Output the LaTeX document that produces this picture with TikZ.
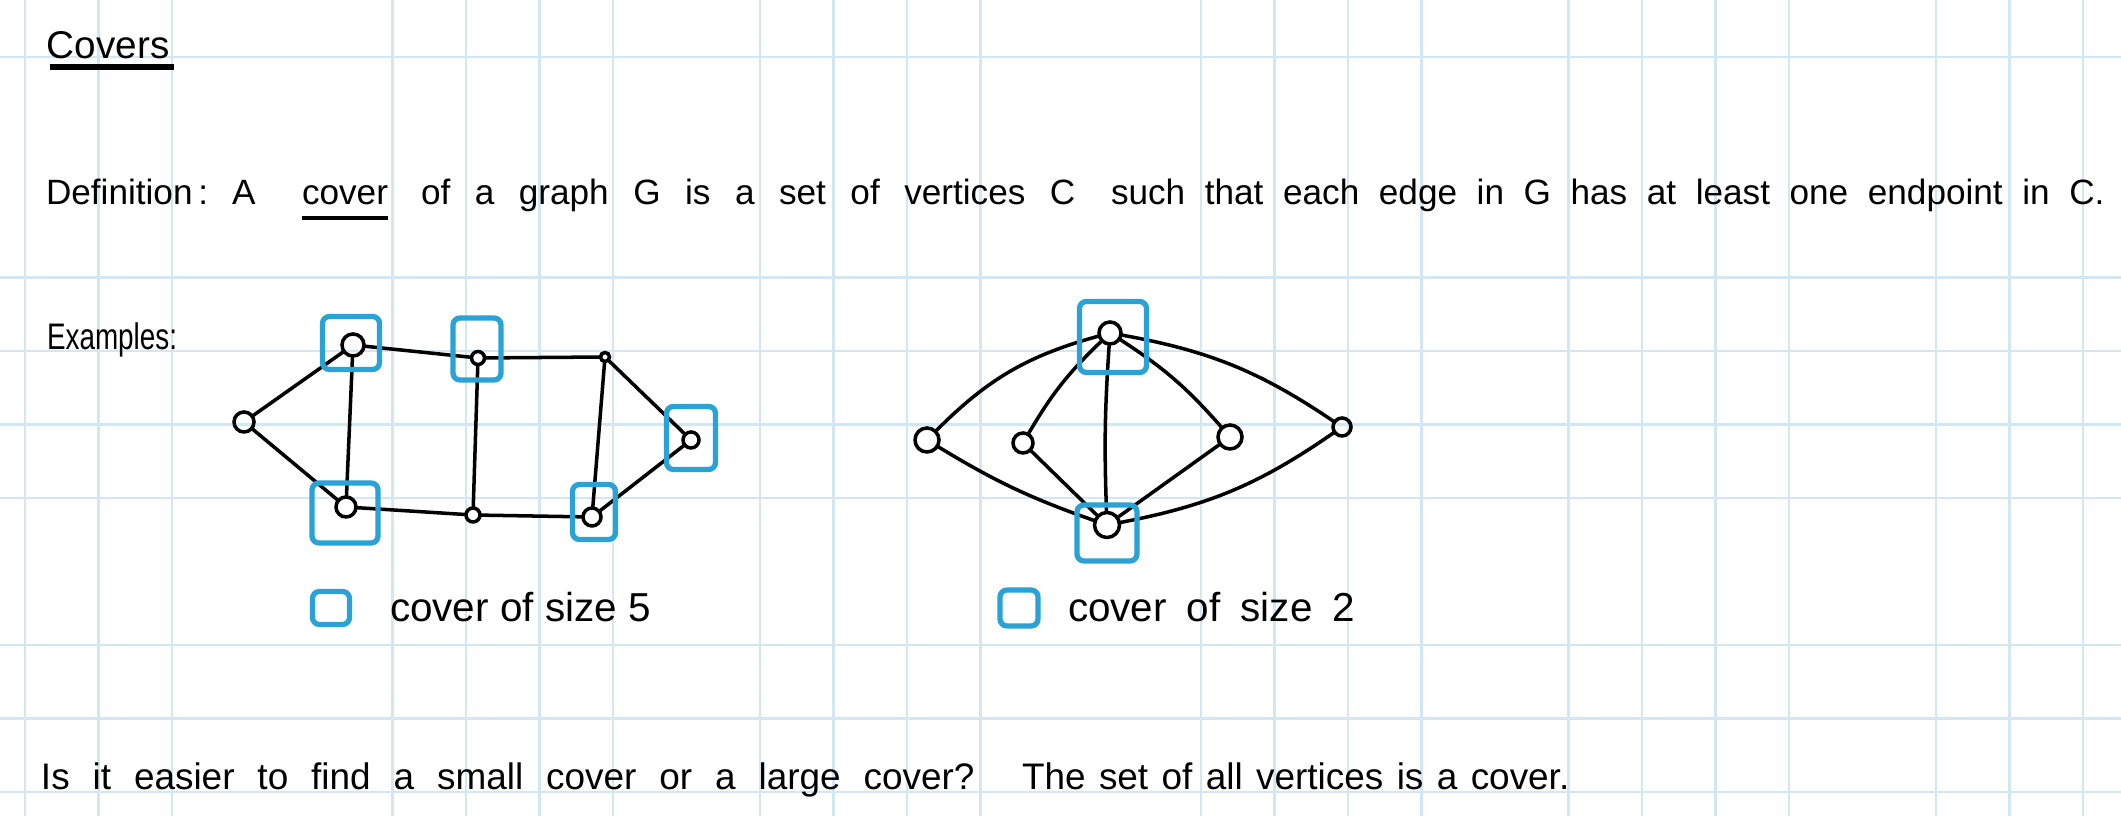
\documentclass[tikz,border=0pt]{standalone}
\usepackage{fontspec}
\setmainfont{Liberation Sans}
\usetikzlibrary{calc}
\definecolor{coverblue}{HTML}{2AA2D5}
\definecolor{gridblue}{HTML}{D2E7F3}

\begin{document}
\begin{tikzpicture}[x=0.01cm, y=-0.01cm, every node/.style={inner sep=0pt, outer sep=0pt},
    hand/.style={anchor=base west, font=\fontsize{10.5}{12}\selectfont},
    gridline/.style={gridblue, line width=0.6pt},
    vert/.style={circle, draw, line width=1pt, minimum size=0.2cm},
    link/.style={line width=1pt},
    coverbox/.style={draw=coverblue, line width=1.5pt, rounded corners=2pt}]
            % paper
            \fill[white] (0,0) rectangle (2121,816);
            \useasboundingbox (0,0) rectangle (2121,816);
            % Grid of the notebook page
            \foreach \k in {0,1,2,5,6,7,8,10,11,12,13,16,17,18,19,21,22,23,24,26,27,28} {
                \draw[gridline] ({25+73.5*\k},0) -- ({25+73.5*\k},816);
            }
            \foreach \j in {0,3,4,5,6,8,9,10} {
                \draw[gridline] (0,{57+73.5*\j}) -- (2121,{57+73.5*\j});
            }
            %%%%%%%%%%%%%%% Title
            \node[hand, font=\fontsize{11}{13}\selectfont] (title) at (47,59) {Covers};
            \draw[line width=1.5pt] ([shift={(0.03cm,-0.08cm)}]title.base west) -- ([shift={(0.04cm,-0.08cm)}]title.base east);
            %%%%%%%%%%%%%%% Definition line
            \node[hand, font=\fontsize{10}{12}\selectfont] (defhead) at (46,205) {Definition\,:};
            \node[hand, font=\fontsize{10}{12}\selectfont] (defa) at (232,205) {A};
            \node[hand, font=\fontsize{10}{12}\selectfont] (covword) at (302,205) {cover};
            \draw[line width=1.3pt] ([yshift=-0.13cm]covword.base west) -- ([yshift=-0.13cm]covword.base east);
            \node[hand, font=\fontsize{10}{12}\selectfont] (defmid) at (421,205) {\makebox[6.54cm][s]{of a graph G is a set of vertices C}};
            \node[hand, font=\fontsize{10}{12}\selectfont] (defend) at (1111,205) {\makebox[9.93cm][s]{such that each edge in G has at least one endpoint in C.}};
            %%%%%%%%%%%%%%% Examples
            \node[hand] (examples) at (47,350) {\resizebox{1.3cm}{\height}{Examples:}};
            %%%%%%%%%%%%%%% First graph: ladder with two end vertices
            \node[vert] (lft) at (244,422) {};
            \node[vert, minimum size=0.22cm] (tl) at (353,345) {};
            \node[vert, minimum size=0.13cm] (tm) at (478,358) {};
            \node[vert, minimum size=0.09cm] (tr) at (605,357) {};
            \node[vert, minimum size=0.16cm] (rgt) at (691,440) {};
            \node[vert] (bl) at (346,507) {};
            \node[vert, minimum size=0.14cm] (bm) at (473,515) {};
            \node[vert, minimum size=0.18cm] (br) at (592,517) {};
            \draw[link] (lft) -- (tl);
            \draw[link] (lft) -- (bl);
            \draw[link] (tl) -- (tm);
            \draw[link] (tm) -- (tr);
            \draw[link] (tr) -- (rgt);
            \draw[link] (rgt) -- (br);
            \draw[link] (tl) -- (bl);
            \draw[link] (tm) -- (bm);
            \draw[link] (tr) -- (br);
            \draw[link] (bl) -- (bm);
            \draw[link] (bm) -- (br);
            % cover of size 5
            \node[coverbox, minimum width=0.57cm, minimum height=0.53cm] (tlbox) at (351,343) {};
            \node[coverbox, minimum width=0.48cm, minimum height=0.62cm] (tmbox) at (477,349) {};
            \node[coverbox, minimum width=0.49cm, minimum height=0.63cm] (rgtbox) at (691,438) {};
            \node[coverbox, minimum width=0.66cm, minimum height=0.60cm] (blbox) at (345,513) {};
            \node[coverbox, minimum width=0.43cm, minimum height=0.55cm] (brbox) at (594,512) {};
            %%%%%%%%%%%%%%% Second graph: two hubs
            \node[vert, minimum size=0.22cm] (hub) at (1110,333) {};
            \node[vert, minimum size=0.25cm] (base) at (1107,525) {};
            \node[vert, minimum size=0.24cm] (o1) at (927,440) {};
            \node[vert] (i1) at (1023,443) {};
            \node[vert, minimum size=0.24cm] (i2) at (1230,437) {};
            \node[vert, minimum size=0.18cm] (o2) at (1342,427) {};
            \draw[link] (hub) to[bend right=15] (o1);
            \draw[link] (hub) to[bend right=8] (i1);
            \draw[link] (hub) to[bend right=3] (base);
            \draw[link] (hub) to[bend left=8] (i2);
            \draw[link] (hub) to[bend left=12] (o2);
            \draw[link] (o1) to[bend right=6] (base);
            \draw[link] (i1) -- (base);
            \draw[link] (i2) -- (base);
            \draw[link] (base) to[bend right=12] (o2);
            % cover of size 2
            \node[coverbox, minimum width=0.67cm, minimum height=0.71cm] (hubbox) at (1113,337) {};
            \node[coverbox, minimum width=0.60cm, minimum height=0.56cm] (basebox) at (1107,533) {};
            %%%%%%%%%%%%%%% Legends
            \node[coverbox, minimum width=0.37cm, minimum height=0.33cm] (key1) at (331,608) {};
            \node[hand, font=\fontsize{11.5}{13}\selectfont] (lab1) at (390,622) {cover of size 5};
            \node[coverbox, minimum width=0.38cm, minimum height=0.36cm] (key2) at (1019,608) {};
            \node[hand, font=\fontsize{11.5}{13}\selectfont] (lab2) at (1068,622) {\makebox[2.87cm][s]{cover of size 2}};
            %%%%%%%%%%%%%%% Question at the bottom
            \node[hand] (question) at (41,790) {\makebox[9.33cm][s]{Is it easier to find a small cover or a large cover?}};
            \node[hand] (answer) at (1022,790) {\makebox[5.47cm][s]{The set of all vertices is a cover.}};
\end{tikzpicture}
\end{document}
